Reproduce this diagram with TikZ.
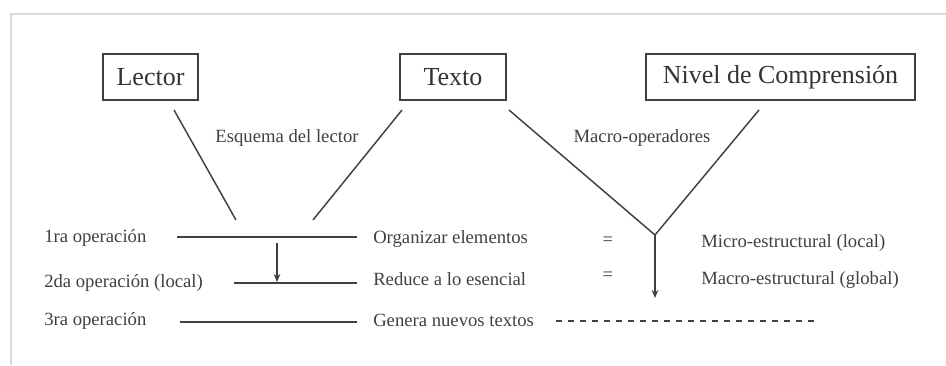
\documentclass[tikz,border=0pt]{standalone}
\usepackage{fontspec}
\setmainfont{Liberation Serif}
\usetikzlibrary{arrows.meta,positioning}
\tikzset{
  caja/.style={draw=black!75, line width=1.1pt, minimum height=34.5pt, inner sep=0pt, font=\rmfamily\fontsize{19.5}{22}\selectfont, text=black!80},
  etiq/.style={anchor=west, inner sep=0pt, font=\rmfamily\fontsize{14}{16}\selectfont, text=black!75},
  texto/.style={inner sep=0pt, font=\rmfamily\fontsize{14}{16}\selectfont, text=black!75},
  linea/.style={draw=black!75, line width=1.1pt},
  flecha/.style={linea, -{Stealth[length=6pt,width=5pt]}},
}
\begin{document}
\begin{tikzpicture}[x=0.75pt,y=-0.75pt]
      \useasboundingbox (0,0) rectangle (946,365);
      % marco
      \draw[black!15, line width=1.5pt] (946,14) -- (11,14) -- (11,365);
      % cajas
      \node[caja, minimum width=71.25pt] (lector) at (150.5,77) {Lector};
      \node[caja, minimum width=79.5pt] (texto) at (453,77) {Texto};
      \node[caja, minimum width=201.75pt] (nivel) at (780.5,77) {Nivel de Comprensi\'on};
      \node[texto] (esquema) at (287,138) {Esquema del lector};
      \node[texto] (macroop) at (642,138) {Macro-operadores};
      % extremos de las lineas
      \coordinate (l1) at (174,110);
      \coordinate (l2) at (236,220);
      \coordinate (t1) at (402,110);
      \coordinate (t2) at (313,220);
      \coordinate (t3) at (509,110);
      \coordinate (n1) at (759,110);
      \coordinate (v) at (655,235);
      \coordinate (vb) at (655,298);
      % operaciones
      \node[etiq] (op1) at (44,238) {1ra operaci\'on};
      \node[etiq] (op2) at (44,283) {2da operaci\'on (local)};
      \node[etiq] (op3) at (44,321) {3ra operaci\'on};
      \coordinate (a1) at (177,237);
      \coordinate (b1) at (357,237);
      \coordinate (a2) at (234,283);
      \coordinate (b2) at (357,283);
      \coordinate (a3) at (180,322);
      \coordinate (b3) at (357,322);
      \coordinate (f1) at (277,243);
      \coordinate (f2) at (277,282);
      \node[etiq] (org) at (373,239) {Organizar elementos};
      \node[etiq] (red) at (373,279) {Reduce a lo esencial};
      \node[etiq] (gen) at (373,320) {Genera nuevos textos};
      \node[texto] (ig1) at (608,241) {=};
      \node[texto] (ig2) at (608,276) {=};
      \node[etiq] (micro) at (701,243) {Micro-estructural (local)};
      \node[etiq] (macro) at (701,280) {Macro-estructural (global)};
      \coordinate (d1) at (556,321);
      \coordinate (d2) at (818,321);
      % conectores
      \path (l1) edge[linea] (l2);
      \path (t1) edge[linea] (t2);
      \path (t3) edge[linea] (v);
      \path (n1) edge[linea] (v);
      \path (v) edge[flecha] (vb);
      \path (a1) edge[linea] (b1);
      \path (a2) edge[linea] (b2);
      \path (a3) edge[linea] (b3);
      \path (f1) edge[flecha] (f2);
      \draw[black!75, line width=0.8pt, dash pattern=on 4.5pt off 4.5pt] (d1) -- (d2);
\end{tikzpicture}
\end{document}
